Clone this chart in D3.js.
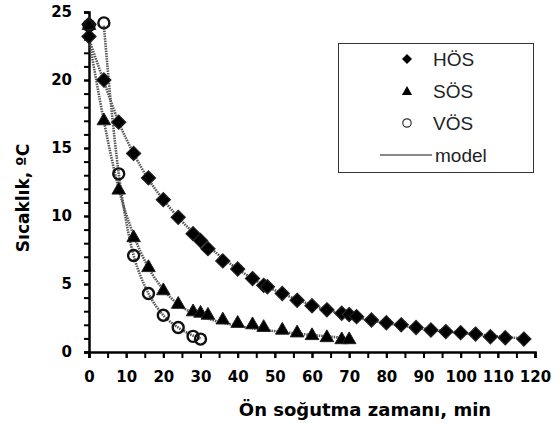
<html>
<head>
<style>
  body { margin: 0; background: #fff; }
  .tick text { font-family: 'DejaVu Sans', sans-serif; font-weight: bold; font-size: 15px; fill: #000; }
  .axis path, .axis line { stroke: #000; }
  .title { font-family: 'DejaVu Sans', sans-serif; font-weight: bold; fill: #000; }
  .leg text { font-family: 'Liberation Sans', Arial, sans-serif; font-size: 19px; fill: #222; }
</style>
</head>
<body>
<svg width="560" height="423"></svg>
<script src="https://d3js.org/d3.v7.min.js"></script>
<script>
// measured points (min, degC)
var hosTime = [0, 0, 4, 8, 12, 16, 20, 24, 28, 30, 32, 36, 40, 44, 47, 48, 52, 56, 60, 64, 68, 70, 72, 76, 80, 84, 88, 92, 96, 100, 104, 108, 112, 117];
var hosTemp = [24.1, 23.2, 20.0, 16.9, 14.6, 12.8, 11.2, 9.9, 8.7, 8.2, 7.6, 6.7, 6.1, 5.4, 4.9, 4.8, 4.3, 3.8, 3.4, 3.1, 2.85, 2.75, 2.6, 2.35, 2.15, 2.0, 1.8, 1.62, 1.5, 1.42, 1.32, 1.12, 1.05, 0.95];
var sosTime = [0, 4, 8, 12, 16, 20, 24, 28, 30, 32, 36, 40, 44, 47, 52, 56, 60, 64, 68, 70];
var sosTemp = [24, 17.0, 11.9, 8.4, 6.2, 4.5, 3.5, 2.95, 2.85, 2.7, 2.35, 2.1, 2.0, 1.8, 1.6, 1.4, 1.2, 1.05, 0.9, 0.9];
var vosTime = [0, 4, 8, 12, 16, 20, 24, 28, 30];
var vosTemp = [24, 24.2, 13.1, 7.1, 4.3, 2.7, 1.8, 1.15, 0.95];

// model curves
var hosModelTime = [0, 4, 8, 12, 16, 20, 24, 28, 32, 36, 40, 44, 48, 52, 56, 60, 64, 68, 72, 76, 80, 84, 88, 92, 96, 100, 104, 108, 112, 118];
var hosModelTemp = [23.0, 19.9, 16.9, 14.6, 12.7, 11.2, 9.9, 8.8, 7.8, 6.9, 6.1, 5.4, 4.8, 4.3, 3.85, 3.45, 3.1, 2.8, 2.55, 2.32, 2.12, 1.95, 1.79, 1.65, 1.52, 1.41, 1.3, 1.2, 1.1, 0.98];
var sosModelTime = [0, 4, 8, 12, 16, 20, 24, 28, 32, 36, 40, 44, 48, 52, 56, 60, 64, 68, 70];
var sosModelTemp = [23.0, 17.0, 12.0, 8.6, 6.2, 4.6, 3.5, 2.85, 2.45, 2.15, 1.92, 1.75, 1.6, 1.47, 1.36, 1.25, 1.15, 1.05, 1.0];
var vosModelTime = [4, 6, 8, 10, 12, 14, 16, 20, 24, 28, 30];
var vosModelTemp = [24.0, 18.0, 13.1, 9.6, 7.1, 5.5, 4.3, 2.7, 1.8, 1.2, 1.0];

var xTicks = d3.range(0, 121, 10);
var yTicks = d3.range(0, 26, 5);
var legendNames = ['HÖS', 'SÖS', 'VÖS', 'model'];

var svg = d3.select('svg');
var x = d3.scaleLinear().domain([0, 120]).range([89, 535]);
var y = d3.scaleLinear().domain([0, 25]).range([352, 12]);

function zip(a, b) { return a.map(function (d, i) { return [d, b[i]]; }); }

// y axis, minor ticks every 1
svg.append('g').attr('class', 'axis')
  .attr('transform', 'translate(' + x(0) + ',0)')
  .call(d3.axisLeft(y).tickValues(d3.range(0, 26, 1)).tickSize(5).tickFormat(''))
  .call(function (g) { g.select('.domain').attr('stroke-width', 2.5); g.selectAll('line').attr('stroke-width', 2); });
svg.append('g').attr('class', 'axis')
  .attr('transform', 'translate(' + x(0) + ',0)')
  .call(d3.axisLeft(y).tickValues(yTicks).tickSize(5).tickPadding(12))
  .call(function (g) { g.select('.domain').remove(); g.selectAll('line').attr('stroke-width', 2); });

// x axis, ticks every 5
svg.append('g').attr('class', 'axis')
  .attr('transform', 'translate(0,' + y(0) + ')')
  .call(d3.axisBottom(x).tickValues(d3.range(0, 121, 5)).tickSize(6).tickFormat(''))
  .call(function (g) { g.select('.domain').attr('stroke-width', 2.5); g.selectAll('line').attr('stroke-width', 2); });
svg.append('g').attr('class', 'axis')
  .attr('transform', 'translate(0,' + y(0) + ')')
  .call(d3.axisBottom(x).tickValues(xTicks).tickSize(6).tickPadding(13))
  .call(function (g) { g.select('.domain').remove(); g.selectAll('line').attr('stroke-width', 2); });

svg.append('text').attr('class', 'title')
  .attr('x', 365).attr('y', 416).attr('text-anchor', 'middle')
  .style('font-size', '18px')
  .text('Ön soğutma zamanı, min');
svg.append('text').attr('class', 'title')
  .attr('transform', 'translate(29,198) rotate(-90)').attr('text-anchor', 'middle')
  .style('font-size', '17px')
  .text('Sıcaklık, ºC');

// model lines
var line = d3.line().x(function (d) { return x(d[0]); }).y(function (d) { return y(d[1]); })
  .curve(d3.curveMonotoneX);
[[hosModelTime, hosModelTemp], [sosModelTime, sosModelTemp], [vosModelTime, vosModelTemp]].forEach(function (m) {
  svg.append('path').datum(zip(m[0], m[1]))
    .attr('d', line)
    .attr('fill', 'none')
    .attr('stroke', '#555')
    .attr('stroke-width', 2.6)
    .attr('stroke-dasharray', '1.5 1');
});

var diamond = {
  draw: function (ctx, size) {
    var r = Math.sqrt(size / 2);
    ctx.moveTo(0, -r); ctx.lineTo(r, 0); ctx.lineTo(0, r); ctx.lineTo(-r, 0); ctx.closePath();
  }
};

svg.append('g').selectAll('path').data(zip(hosTime, hosTemp)).join('path')
  .attr('transform', function (d) { return 'translate(' + x(d[0]) + ',' + y(d[1]) + ')'; })
  .attr('d', d3.symbol(diamond, 100))
  .attr('fill', '#000').attr('stroke', '#222').attr('stroke-width', 1.2);
svg.append('g').selectAll('path').data(zip(sosTime, sosTemp)).join('path')
  .attr('transform', function (d) { return 'translate(' + x(d[0]) + ',' + y(d[1]) + ')'; })
  .attr('d', d3.symbol(d3.symbolTriangle, 80))
  .attr('fill', '#000').attr('stroke', '#222').attr('stroke-width', 1);
svg.append('g').selectAll('circle').data(zip(vosTime, vosTemp)).join('circle')
  .attr('cx', function (d) { return x(d[0]); })
  .attr('cy', function (d) { return y(d[1]); })
  .attr('r', 5.5)
  .attr('fill', 'none').attr('stroke', '#111').attr('stroke-width', 2.4);

// legend
var leg = svg.append('g').attr('class', 'leg');
leg.append('rect').attr('x', 338.5).attr('y', 43.5).attr('width', 195).attr('height', 129)
  .attr('fill', '#fff').attr('stroke', '#333').attr('stroke-width', 1);
var legY = [59, 91, 123, 155];
leg.append('path').attr('transform', 'translate(407,' + legY[0] + ')')
  .attr('d', d3.symbol(diamond, 50)).attr('fill', '#000');
leg.append('path').attr('transform', 'translate(407,' + (legY[1] + 1) + ')')
  .attr('d', d3.symbol(d3.symbolTriangle, 45)).attr('fill', '#000');
leg.append('circle').attr('cx', 407).attr('cy', legY[2]).attr('r', 4.2)
  .attr('fill', 'none').attr('stroke', '#333').attr('stroke-width', 1.2);
leg.append('line').attr('x1', 380).attr('x2', 432).attr('y1', legY[3]).attr('y2', legY[3])
  .attr('stroke', '#111').attr('stroke-width', 1);
legendNames.forEach(function (n, i) {
  leg.append('text').attr('x', i === 3 ? 435 : 433).attr('y', legY[i])
    .attr('dy', '0.35em').text(n);
});
</script>
</body>
</html>
